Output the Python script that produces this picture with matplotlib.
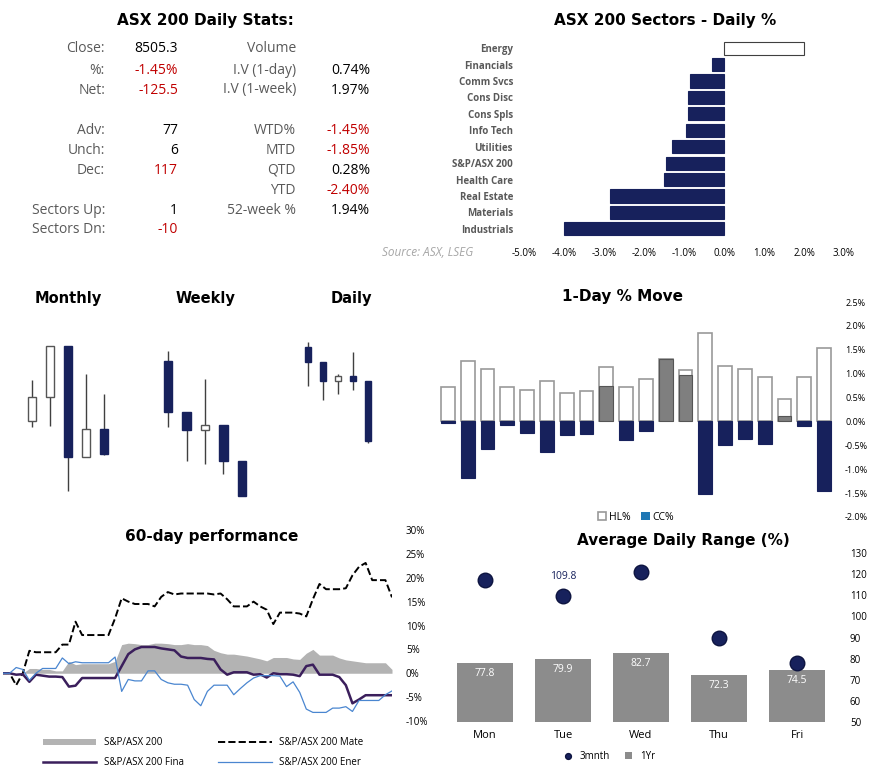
import numpy as np
import matplotlib
matplotlib.use("Agg")
import matplotlib.pyplot as plt
from matplotlib.ticker import FuncFormatter

W, H = 875, 777
NAVY = '#17215c'
RED = '#c00000'
GREY_TXT = '#595959'

# ---- data ----
stats_left = [('Close:', '8505.3', 0), ('%:', '-1.45%', 1), ('Net:', '-125.5', 1), None,
              ('Adv:', '77', 0), ('Unch:', '6', 0), ('Dec:', '117', 1), None,
              ('Sectors Up:', '1', 0), ('Sectors Dn:', '-10', 1)]
stats_right = [('Volume', '', 0), ('I.V (1-day)', '0.74%', 0), ('I.V (1-week)', '1.97%', 0), None,
               ('WTD%', '-1.45%', 1), ('MTD', '-1.85%', 1), ('QTD', '0.28%', 0),
               ('YTD', '-2.40%', 1), ('52-week %', '1.94%', 0), None]

sectors = ['Energy', 'Financials', 'Comm Svcs', 'Cons Disc', 'Cons Spls', 'Info Tech',
           'Utilities', 'S&P/ASX 200', 'Health Care', 'Real Estate', 'Materials', 'Industrials']
sector_pct = [2.0, -0.3, -0.85, -0.9, -0.9, -0.95, -1.3, -1.45, -1.5, -2.85, -2.85, -4.0]

# candles: open, high, low, close (index points, relative)
monthly = [(276, 400, 258, 348), (348, 502, 262, 502), (502, 502, 67, 167),
           (168, 417, 168, 252), (252, 357, 173, 176)]
weekly = [(457, 486, 258, 302), (304, 304, 156, 248), (249, 402, 148, 264),
          (265, 265, 117, 155), (157, 157, 52, 52)]
daily = [(499, 514, 380, 452), (454, 454, 340, 395), (396, 417, 357, 411),
         (412, 483, 370, 395), (397, 397, 210, 217)]

hl_pct = [0.73, 1.27, 1.10, 0.72, 0.65, 0.84, 0.59, 0.63, 1.13, 0.72, 0.89, 1.31, 1.08,
          1.85, 1.17, 1.10, 0.93, 0.48, 0.94, 1.54]
cc_pct = [-0.03, -1.18, -0.57, -0.07, -0.24, -0.64, -0.28, -0.26, 0.74, -0.39, -0.19, 1.31, 0.97,
          -1.52, -0.49, -0.36, -0.47, 0.11, -0.10, -1.45]

asx200 = [0, 0, 0, 0, 1.0, 1.0, 0.8, 0.8, 0.5, 0.5, 2.5, 1.8, 2.0, 2.0, 2.0, 2.0, 2.0, 2.5, 6.0, 6.3,
          6.2, 6.0, 6.0, 6.3, 6.3, 6.2, 6.0, 6.0, 6.2, 6.0, 6.0, 5.8, 4.8, 4.3, 4.0, 4.0, 3.8, 3.6, 3.3, 3.0,
          2.6, 3.3, 3.3, 3.3, 3.0, 2.9, 4.2, 5.0, 3.8, 3.8, 3.8, 3.2, 2.8, 2.6, 2.4, 2.2, 2.2, 2.2, 2.2, 0.8]
materials = [0, 0, -2.5, 0, 4.7, 4.4, 4.4, 4.4, 4.4, 6.0, 6.0, 10.8, 8.0, 8.0, 8.0, 8.0, 8.0, 11.5, 15.7, 15.0,
             14.5, 14.5, 14.5, 14.0, 16.0, 17.0, 16.5, 16.7, 16.7, 16.7, 16.7, 16.7, 16.5, 16.7, 15.5, 14.0, 14.0,
             14.0, 15.0, 14.0, 13.3, 10.3, 12.7, 12.7, 12.7, 12.5, 11.9, 15.5, 18.7, 17.6, 17.6, 17.6, 17.8, 20.5,
             22.3, 23.1, 19.5, 19.5, 19.5, 15.9]
financials = [0, 0, -0.3, -0.2, -1.8, -0.3, -0.5, -0.7, -0.7, -0.8, -2.8, -2.6, -1.0, -1.0, -1.0, -1.0, -1.0,
              -1.0, 1.5, 4.0, 5.0, 5.5, 5.5, 5.5, 5.2, 5.0, 4.8, 3.5, 3.2, 3.2, 3.2, 3.0, 2.9, 0.8, -0.3, 0.2,
              0.2, 0.2, -0.3, -0.2, -0.9, 0.0, -0.2, -0.2, -0.3, -0.6, 1.5, 1.8, -0.3, -0.3, -0.3, -0.8, -2.5,
              -6.3, -5.5, -4.6, -4.6, -4.6, -4.6, -4.6]
energy = [0, 0, 1.2, 0.8, -1.5, 0.0, 1.0, 1.0, 1.0, 3.2, 2.0, 2.4, 2.2, 2.2, 2.2, 2.2, 2.2, 3.4, -3.8, -1.3,
          -1.6, -1.6, 0.5, 0.5, -1.3, -2.0, -2.3, -2.3, -2.5, -5.5, -6.8, -3.8, -2.5, -2.5, -2.5, -4.5, -3.2,
          -2.0, -1.0, -0.5, -0.5, -0.5, -0.6, -2.8, -1.8, -4.0, -7.5, -8.2, -8.2, -8.2, -7.3, -7.3, -7.0, -8.0,
          -5.7, -5.7, -5.7, -5.7, -4.5, -3.7]

days = ['Mon', 'Tue', 'Wed', 'Thu', 'Fri']
range_1yr = [77.8, 79.9, 82.7, 72.3, 74.5]
range_3m = [117.2, 109.8, 121.0, 89.7, 78.0]

plt.rcParams['font.family'] = ['Open Sans', 'DejaVu Sans']
fig = plt.figure(figsize=(W / 100, H / 100), dpi=100)


def ax_px(l, t, r, b):
    return fig.add_axes([l / W, 1 - b / H, (r - l) / W, (b - t) / H])


def ftxt(x, y, s, **kw):
    fig.text(x / W, 1 - y / H, s, **kw)


TITLE = dict(fontsize=11, fontweight='bold', family='DejaVu Sans', ha='center', va='center')

# ---- stats table ----
ftxt(205, 20, 'ASX 200 Daily Stats:', **TITLE)
row_y = [49, 70, 90, 110, 130, 150, 170, 190, 210, 230]
for y, lft, rgt in zip(row_y, stats_left, stats_right):
    if lft:
        ftxt(105, y, lft[0], ha='right', va='center', fontsize=10, color=GREY_TXT)
        ftxt(178, y, lft[1], ha='right', va='center', fontsize=10, color=RED if lft[2] else 'black')
    if rgt:
        ftxt(296, y, rgt[0], ha='right', va='center', fontsize=10, color=GREY_TXT)
        ftxt(370, y, rgt[1], ha='right', va='center', fontsize=10, color=RED if rgt[2] else 'black')
ftxt(473, 253, 'Source: ASX, LSEG', ha='right', va='center', fontsize=8.5, style='italic', color='#a6a6a6')

# ---- sectors ----
ftxt(665, 20, 'ASX 200 Sectors - Daily %', **TITLE)
ax = ax_px(524, 40, 844, 237)
yy = np.arange(len(sectors))
cols = ['white' if v > 0 else NAVY for v in sector_pct]
ax.barh(yy, sector_pct, height=0.8, color=cols, edgecolor=['#404040' if v > 0 else NAVY for v in sector_pct], lw=0.8)
ax.set_ylim(len(sectors) - 0.5, -0.5)
ax.set_xlim(-5, 3)
ax.set_yticks(yy, sectors, fontsize=7, color=GREY_TXT, fontweight='bold')
ax.set_xticks(np.arange(-5, 3.1, 1))
ax.xaxis.set_major_formatter(FuncFormatter(lambda v, p: f'{v:.1f}%'))
ax.tick_params(axis='x', labelsize=7, length=0, pad=8)
ax.tick_params(axis='y', length=0, pad=8)
for s in ax.spines.values():
    s.set_visible(False)

# ---- candlesticks ----
def candles(ax, data, width):
    for i, (o, h, l, c) in enumerate(data):
        up = c >= o
        ax.vlines(i, l, h, color='#404040', lw=1)
        ax.bar(i, abs(c - o), bottom=min(o, c), width=width,
               color='white' if up else NAVY, edgecolor='#555555' if up else NAVY, lw=1, zorder=3)
    ax.set_xlim(-0.5, len(data) - 0.5)
    ax.set_ylim(0, 720)
    ax.axis('off')

for (l, r, title, tx, data, w) in [(23, 113, 'Monthly', 68, monthly, 0.45),
                                  (159, 251, 'Weekly', 205, weekly, 0.45),
                                  (300.5, 375.5, 'Daily', 351, daily, 0.45)]:
    candles(ax_px(l, 273, r, 513), data, w)
    ftxt(tx, 298, title, fontsize=10.5, fontweight='bold', family='DejaVu Sans', ha='center', va='center')

# ---- 1-day move ----
ftxt(623, 297, '1-Day % Move', **TITLE)
ax = ax_px(438, 302, 834, 517)
x = np.arange(len(hl_pct))
ax.bar(x, hl_pct, width=0.7, color='white', edgecolor='#999999', lw=1.2, label='HL%')
ax.bar(x, cc_pct, width=0.7, color=['#7f7f7f' if v > 0 else NAVY for v in cc_pct],
       edgecolor=['#555555' if v > 0 else NAVY for v in cc_pct], lw=0.8)
ax.bar([], [], color='#7f7f7f', edgecolor='#555555', label='CC%')
ax.set_ylim(-2.0, 2.5)
ax.set_xlim(-0.5, len(hl_pct) - 0.5)
ax.yaxis.tick_right()
ax.set_yticks(np.arange(-2.0, 2.51, 0.5))
ax.yaxis.set_major_formatter(FuncFormatter(lambda v, p: f'{v:.1f}%'))
ax.tick_params(axis='y', labelsize=6.5, length=0, pad=8)
ax.set_xticks([])
for s in ax.spines.values():
    s.set_visible(False)
ax.legend(loc='lower center', bbox_to_anchor=(0.5, -0.07), ncol=2, frameon=False, fontsize=7.5,
          handlelength=0.8, handleheight=0.8, columnspacing=1.0, handletextpad=0.3)

# ---- 60-day performance ----
ftxt(212, 537, '60-day performance', **TITLE)
ax = ax_px(3, 530, 392, 721)
t = np.arange(len(asx200))
ax.fill_between(t, 0, asx200, color='#b3b3b3', lw=0, label='S&P/ASX 200')
ax.plot(t, materials, color='black', ls='--', lw=1.4, label='S&P/ASX 200 Mate')
ax.plot(t, financials, color='#3b1f5c', lw=1.8, label='S&P/ASX 200 Fina')
ax.plot(t, energy, color='#4a86d0', lw=0.9, label='S&P/ASX 200 Ener')
ax.set_ylim(-10, 30)
ax.set_xlim(0, len(t) - 1)
ax.yaxis.tick_right()
ax.set_yticks(np.arange(-10, 31, 5))
ax.yaxis.set_major_formatter(FuncFormatter(lambda v, p: f'{v:.0f}%'))
ax.tick_params(axis='y', labelsize=7, length=0, pad=10)
ax.set_xticks([])
for s in ax.spines.values():
    s.set_visible(False)
h, lb = ax.get_legend_handles_labels()
order = [0, 2, 1, 3]
ax.legend([h[i] for i in order], [lb[i] for i in order], loc='upper left', bbox_to_anchor=(0.08, -0.04),
          ncol=2, frameon=False, fontsize=7, handlelength=5.5, columnspacing=3.5, labelspacing=0.9)

# ---- average daily range ----
ftxt(683, 540, 'Average Daily Range (%)', **TITLE)
ax = ax_px(446, 553, 836, 722)
xd = np.arange(len(days))
bars = ax.bar(xd, range_1yr, width=0.72, color='#8c8c8c', label='1Yr')
for b, v in zip(bars, range_1yr):
    ax.text(b.get_x() + b.get_width() / 2, v - 5, f'{v:.1f}', ha='center', va='center',
            color='white', fontsize=7.5)
ax.scatter(xd, range_3m, s=110, color=NAVY, edgecolor='#0d1440', zorder=3, label='3mnth')
ax.text(xd[1], range_3m[1] + 9, f'{range_3m[1]:.1f}', ha='center', va='center', color=NAVY, fontsize=7.5)
ax.set_ylim(50, 130)
ax.set_xlim(-0.5, len(days) - 0.5)
ax.yaxis.tick_right()
ax.set_yticks(np.arange(50, 131, 10))
ax.tick_params(axis='y', labelsize=7, length=0, pad=10)
ax.set_xticks(xd, days, fontsize=8)
ax.tick_params(axis='x', length=0, pad=6)
for s in ax.spines.values():
    s.set_visible(False)
ax.legend(loc='upper center', bbox_to_anchor=(0.42, -0.12), ncol=2, frameon=False, fontsize=7,
          handlelength=0.8, markerscale=0.4, columnspacing=1.5)

fig.savefig('out.png', dpi=100)
